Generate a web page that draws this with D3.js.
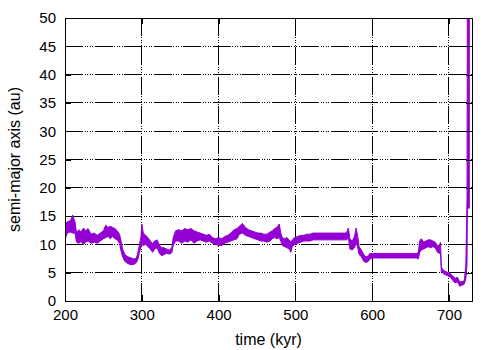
<!DOCTYPE html>
<html>
<head>
<meta charset="utf-8">
<script src="https://cdn.jsdelivr.net/npm/d3@7"></script>
<style>
  body { margin: 0; background: #fff; }
  text { font-family: "Liberation Sans", Arial, sans-serif; fill: #000; }
</style>
</head>
<body>
<div id="chart"></div>
<script>
// time in kyr, with the low / high edge of the semi-major axis band (au)
var time = [200, 203, 207, 210, 213, 215, 218, 221, 224, 227, 230, 234, 238, 242, 246, 250, 253, 256, 259, 262,
  265, 268, 271, 273, 275, 278, 282, 286, 290, 293, 295, 297, 299, 300, 302, 305, 308, 311, 314, 317,
  320, 323, 326, 329, 332, 336, 339, 341, 344, 348, 352, 356, 360, 364, 368, 372, 376, 380, 384, 388,
  392, 396, 400, 404, 408, 412, 416, 420, 424, 427, 431, 435, 439, 443, 447, 451, 455, 459, 463, 467,
  470, 473, 476, 479, 481, 483, 486, 489, 492, 494, 496, 499, 503, 507, 511, 515, 519, 523, 527, 535,
  545, 555, 565, 567, 569, 571, 574, 577, 579, 581, 583, 586, 589, 592, 595, 597, 600, 610, 620, 630,
  640, 650, 658, 660, 662, 664, 667, 670, 673, 676, 679, 682, 685, 688, 689, 690, 693, 696, 699, 702,
  705, 708, 711, 714, 717, 720, 722, 723.5, 724, 726.5];
var aLow = [10.8, 12.0, 12.2, 12.0, 12.0, 10.4, 10.2, 10.5, 10.0, 10.4, 10.6, 10.2, 10.4, 10.2, 10.6, 11.0, 11.2, 11.4, 11.0, 11.4,
  11.0, 10.8, 10.2, 8.8, 7.8, 7.0, 6.6, 6.4, 6.5, 6.8, 7.4, 8.6, 9.6, 10.0, 9.8, 10.0, 9.6, 9.2, 8.6, 9.2,
  9.4, 8.4, 8.0, 8.2, 8.4, 8.3, 8.5, 9.8, 10.6, 10.6, 10.2, 10.6, 10.4, 10.8, 10.2, 10.6, 10.8, 10.6, 10.4, 10.6,
  10.2, 10.0, 9.8, 9.8, 10.2, 10.4, 10.6, 10.8, 11.0, 11.8, 12.0, 11.6, 11.4, 11.2, 11.0, 10.8, 10.6, 10.6, 10.4, 10.6,
  11.0, 11.2, 11.0, 11.2, 10.6, 9.8, 9.6, 9.4, 9.2, 8.6, 9.6, 10.0, 10.2, 10.4, 10.6, 10.6, 10.6, 10.8, 10.8, 10.8,
  10.8, 10.8, 10.8, 10.8, 11.2, 9.2, 9.0, 9.4, 10.2, 9.6, 8.2, 7.8, 7.0, 6.8, 7.0, 7.4, 7.6, 7.6, 7.6, 7.6,
  7.6, 7.6, 7.6, 7.4, 8.6, 9.0, 9.2, 9.4, 9.6, 9.4, 9.6, 9.4, 8.6, 8.4, 9.0, 5.2, 4.8, 4.6, 4.4, 4.2,
  3.6, 3.2, 3.4, 2.6, 2.8, 3.0, 4.0, 6.4, 16.4, 16.4];
var aHigh = [13.5, 14.0, 14.2, 15.2, 14.0, 12.0, 12.6, 12.2, 12.9, 12.4, 12.8, 11.8, 12.0, 11.6, 12.0, 12.4, 13.4, 13.0, 13.2, 13.0,
  12.8, 12.4, 11.8, 10.6, 9.2, 8.2, 7.8, 7.6, 7.4, 7.6, 8.6, 10.0, 11.4, 13.6, 12.0, 11.6, 11.2, 10.6, 10.2, 10.6,
  10.8, 9.8, 9.4, 9.4, 9.2, 9.0, 9.4, 11.2, 12.4, 12.6, 12.4, 12.8, 12.6, 12.8, 12.4, 12.2, 12.0, 11.8, 11.6, 11.8,
  11.2, 11.0, 11.2, 11.0, 11.4, 11.6, 12.0, 12.6, 12.8, 13.2, 13.7, 13.0, 12.6, 12.4, 12.2, 12.0, 12.0, 11.8, 11.8, 12.2,
  12.4, 12.8, 13.0, 13.6, 12.0, 11.2, 11.0, 11.2, 10.8, 10.4, 10.8, 11.2, 11.4, 11.6, 11.6, 11.8, 11.8, 12.0, 12.0, 12.0,
  12.0, 12.0, 12.0, 12.2, 12.9, 11.0, 10.6, 11.4, 12.9, 11.6, 9.6, 9.0, 8.2, 7.8, 8.0, 8.4, 8.4, 8.4, 8.4, 8.4,
  8.4, 8.4, 8.4, 8.6, 10.6, 11.0, 10.4, 10.6, 10.8, 10.8, 10.6, 10.4, 9.8, 9.8, 10.4, 6.0, 5.4, 5.2, 5.0, 4.8,
  4.4, 4.0, 4.2, 3.4, 3.4, 3.6, 6.4, 18.0, 60, 60];

var xTicks = [200, 300, 400, 500, 600, 700];
var yTicks = [0, 5, 10, 15, 20, 25, 30, 35, 40, 45, 50];

var band = time.map(function(t, i) { return { t: t, lo: aLow[i], hi: aHigh[i] }; });

// plot frame
var svgW = 500, svgH = 350;
var margin = { top: 18, right: 28, bottom: 49, left: 65 };
var w = svgW - margin.left - margin.right;
var h = svgH - margin.top - margin.bottom;

var svg = d3.select("#chart").append("svg").attr("width", svgW).attr("height", svgH);
var g = svg.append("g").attr("transform", "translate(" + margin.left + "," + margin.top + ")");

var x = d3.scaleLinear().domain([200, 730]).range([0, w]);
var y = d3.scaleLinear().domain([0, 50]).range([h, 0]);

var gridDash = "18,1.5,1,1.5,1,1.5,1,1.5,1,1.5";

// grid lines
g.selectAll("line.vgrid").data(xTicks).enter().append("line")
  .attr("x1", function(d) { return x(d); }).attr("x2", function(d) { return x(d); })
  .attr("y1", h).attr("y2", 0)
  .attr("stroke", "#000").attr("stroke-width", 1).attr("stroke-dasharray", gridDash)
  .attr("shape-rendering", "crispEdges");
g.selectAll("line.hgrid").data(yTicks).enter().append("line")
  .attr("x1", 0).attr("x2", w)
  .attr("y1", function(d) { return y(d); }).attr("y2", function(d) { return y(d); })
  .attr("stroke", "#000").attr("stroke-width", 1).attr("stroke-dasharray", gridDash)
  .attr("shape-rendering", "crispEdges");

// the data band, clipped to the frame
g.append("clipPath").attr("id", "clip").append("rect").attr("width", w).attr("height", h);

var area = d3.area()
  .x(function(d) { return x(d.t); })
  .y0(function(d) { return y(d.lo); })
  .y1(function(d) { return y(d.hi); });

g.append("path").datum(band).attr("clip-path", "url(#clip)")
  .attr("d", area).attr("fill", "#9400d3").attr("stroke", "#9400d3").attr("stroke-width", 1);

// axes with inward ticks, mirrored
var tl = 6;
var bottomAxis = d3.axisBottom(x).tickValues(xTicks).tickSizeInner(-tl).tickSizeOuter(0).tickPadding(8);
var topAxis = d3.axisTop(x).tickValues(xTicks).tickSizeInner(-tl).tickSizeOuter(0).tickFormat("");
var leftAxis = d3.axisLeft(y).tickValues(yTicks).tickSizeInner(-tl).tickSizeOuter(0).tickPadding(9);
var rightAxis = d3.axisRight(y).tickValues(yTicks).tickSizeInner(-tl).tickSizeOuter(0).tickFormat("");

function styleAxis(sel) {
  sel.select(".domain").remove();
  sel.selectAll("line").attr("stroke", "#000").attr("shape-rendering", "crispEdges");
  sel.selectAll("text").style("font-size", "15px").attr("fill", "#000");
}

g.append("g").attr("transform", "translate(0," + h + ")").call(bottomAxis).call(styleAxis);
g.append("g").call(topAxis).call(styleAxis);
g.append("g").call(leftAxis).call(styleAxis);
g.append("g").attr("transform", "translate(" + w + ",0)").call(rightAxis).call(styleAxis);

// border
g.append("rect").attr("width", w).attr("height", h)
  .attr("fill", "none").attr("stroke", "#000").attr("stroke-width", 1).attr("shape-rendering", "crispEdges");

// axis titles
svg.append("text").attr("x", margin.left + w / 2).attr("y", 345)
  .attr("text-anchor", "middle").style("font-size", "16px").text("time (kyr)");
svg.append("text").attr("transform", "translate(20," + (margin.top + h / 2) + ") rotate(-90)")
  .attr("text-anchor", "middle").style("font-size", "16px").text("semi-major axis (au)");
</script>
</body>
</html>
